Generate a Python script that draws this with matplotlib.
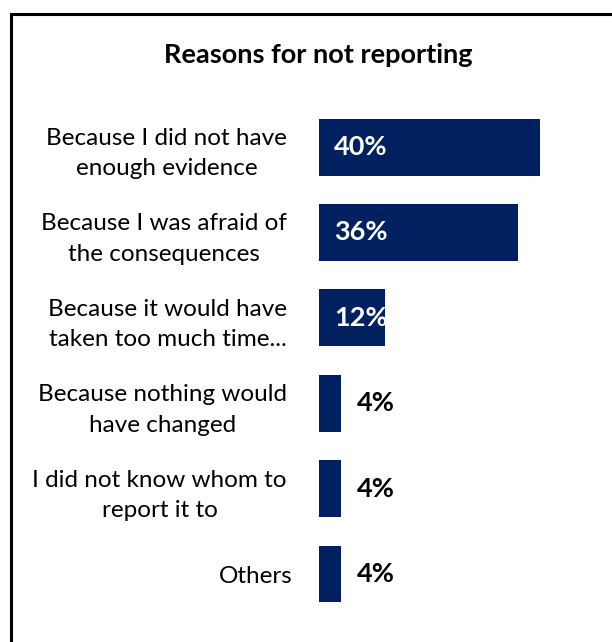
import matplotlib.pyplot as plt
from matplotlib.patches import Rectangle

plt.rcParams['font.family'] = ['Lato', 'DejaVu Sans']

# Survey results
reasons = [
    'Because I did not have\nenough evidence',
    'Because I was afraid of\nthe consequences',
    'Because it would have\ntaken too much time...',
    'Because nothing would\nhave changed',
    'I did not know whom to\nreport it to',
    'Others',
]
shares = [40, 36, 12, 4, 4, 4]

bar_color = '#002060'

fig = plt.figure(figsize=(6.12, 6.42), dpi=100)

# frame around the chart (only top and left edges are visible)
frame = Rectangle((11 / 612, -0.1), 1.0, 1 - 14 / 642 + 0.1,
                  transform=fig.transFigure, fill=False,
                  edgecolor='black', linewidth=2.2)
fig.patches.append(frame)

fig.text(318 / 612, 1 - 55 / 642, 'Reasons for not reporting',
         ha='center', va='center', fontsize=19.5, fontweight='bold')

ax_w = 281
ax = fig.add_axes([319 / 612, 0.0394, ax_w / 612, 0.798])
pos = range(len(reasons))
ax.barh(pos, shares, height=0.667, color=bar_color)

ax.set_xlim(0, ax_w / 5.525)
ax.set_ylim(5.5, -0.5)
ax.set_xticks([])
ax.set_yticks([])
for s in ax.spines.values():
    s.set_visible(False)

# category labels, right aligned left of the bars
for i, name in enumerate(reasons):
    gap = 26 if '\n' not in name else 32
    ax.text(-gap / ax_w, i, name, transform=ax.get_yaxis_transform(),
            ha='right', va='center_baseline', multialignment='center',
            fontsize=17.5, linespacing=1.55)

# value labels: inside wide bars, to the right of narrow ones
for i, v in enumerate(shares):
    if v >= 10:
        ax.text(2.7, i, f'{v}%', ha='left', va='center', color='white',
                fontsize=19.5, fontweight='bold', clip_on=True)
    else:
        ax.text(v + 2.9, i, f'{v}%', ha='left', va='center', color='black',
                fontsize=19.5, fontweight='bold')

fig.savefig('out.png', dpi=100)
